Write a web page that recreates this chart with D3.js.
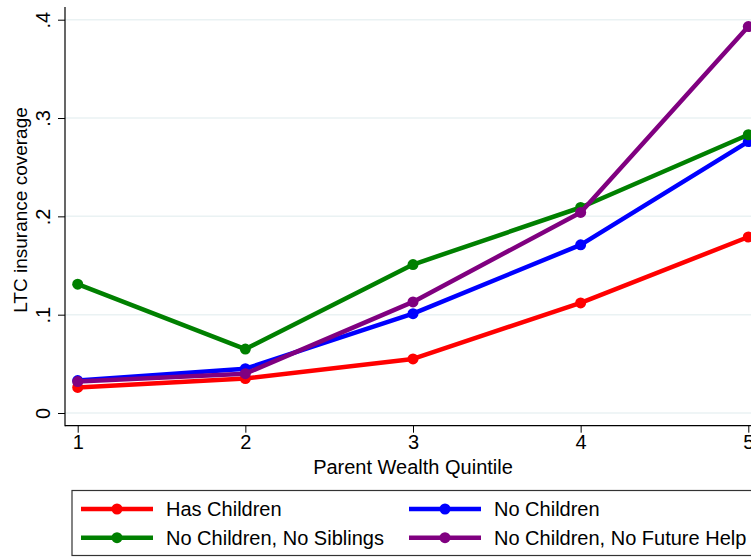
<!DOCTYPE html>
<html><head><meta charset="utf-8">
<script src="https://cdn.jsdelivr.net/npm/d3@7"></script>
<style>body{margin:0;background:#fff}svg{display:block}text{font-family:"Liberation Sans",Arial,sans-serif;fill:#000}</style>
</head><body><div id="chart"></div>
<script>
const quintiles = [1, 2, 3, 4, 5];
const hasChildren = [0.026, 0.035, 0.055, 0.112, 0.179];
const noChildren = [0.033, 0.045, 0.101, 0.171, 0.276];
const noChildrenNoSiblings = [0.131, 0.065, 0.151, 0.209, 0.283];
const noChildrenNoFutureHelp = [0.032, 0.040, 0.113, 0.204, 0.393];
const yTicks = [0, 0.1, 0.2, 0.3, 0.4];
const yTickLabels = ["0", ".1", ".2", ".3", ".4"];
const seriesNames = ["Has Children", "No Children", "No Children, No Siblings", "No Children, No Future Help"];
const seriesColors = ["#ff0000", "#0000ff", "#008000", "#800080"];
const seriesValues = [hasChildren, noChildren, noChildrenNoSiblings, noChildrenNoFutureHelp];

const W = 751, H = 557;
const FS = 20;
const svg = d3.select("#chart").append("svg").attr("width", W).attr("height", H);
const x = d3.scaleLinear().domain([1, 5]).range([77.7, 748.3]);
const y = d3.scaleLinear().domain([0, 0.4]).range([413, 19.7]);
const axisX = 65, axisY = 425.7, plotTop = 7;

// gridlines
svg.append("g").selectAll("line").data(yTicks).join("line")
  .attr("x1", axisX).attr("x2", W).attr("y1", d => y(d)).attr("y2", d => y(d))
  .attr("stroke", "#eaf2f3").attr("stroke-width", 1.5);

// y axis
const ya = svg.append("g").attr("transform", `translate(${axisX},0)`)
  .call(d3.axisLeft(y).tickValues(yTicks).tickFormat((d, i) => yTickLabels[i]).tickSize(7).tickPadding(0));
ya.select(".domain").remove();
ya.selectAll(".tick line").attr("stroke", "#000");
ya.selectAll(".tick text").attr("font-size", FS).attr("text-anchor", "middle")
  .attr("transform", "translate(-22,0) rotate(-90)").attr("x", 0).attr("dy", "0.35em");
svg.append("line").attr("x1", axisX).attr("x2", axisX).attr("y1", plotTop).attr("y2", axisY + 0.5)
  .attr("stroke", "#000").attr("stroke-width", 1.2);

// x axis
const xa = svg.append("g").attr("transform", `translate(0,${axisY})`)
  .call(d3.axisBottom(x).tickValues(quintiles).tickFormat(d3.format("d")).tickSize(7).tickPadding(2));
xa.select(".domain").remove();
xa.selectAll(".tick line").attr("stroke", "#000");
xa.selectAll(".tick text").attr("font-size", FS);
svg.append("line").attr("x1", axisX).attr("x2", W).attr("y1", axisY).attr("y2", axisY)
  .attr("stroke", "#000").attr("stroke-width", 1.2);

// titles
svg.append("text").attr("x", 413).attr("y", 474).attr("text-anchor", "middle").attr("font-size", FS)
  .text("Parent Wealth Quintile");
svg.append("text").attr("transform", "translate(27,210) rotate(-90)").attr("text-anchor", "middle")
  .attr("font-size", 19).text("LTC insurance coverage");

// lines
const line = d3.line().x((d, i) => x(quintiles[i])).y(d => y(d));
[0, 1, 2, 3].forEach(k => {
  const g = svg.append("g");
  g.append("path").datum(seriesValues[k]).attr("d", line).attr("fill", "none")
    .attr("stroke", seriesColors[k]).attr("stroke-width", 4.5).attr("stroke-linejoin", "round");
  g.selectAll("circle").data(seriesValues[k]).join("circle")
    .attr("cx", (d, i) => x(quintiles[i])).attr("cy", d => y(d)).attr("r", 5.5)
    .attr("fill", seriesColors[k]);
});

// legend
const lg = svg.append("g");
lg.append("rect").attr("x", 72).attr("y", 490.5).attr("width", 720).attr("height", 65)
  .attr("fill", "#fff").attr("stroke", "#333").attr("stroke-width", 1.2);
const legPos = [[81, 509], [409, 509], [81, 537.7], [409, 537.7]];
seriesNames.forEach((name, k) => {
  const [lx, ly] = legPos[k];
  lg.append("line").attr("x1", lx).attr("x2", lx + 72).attr("y1", ly).attr("y2", ly)
    .attr("stroke", seriesColors[k]).attr("stroke-width", 4.5);
  lg.append("circle").attr("cx", lx + 36).attr("cy", ly).attr("r", 5.5).attr("fill", seriesColors[k]);
  lg.append("text").attr("x", lx + 85).attr("y", ly).attr("dy", "0.35em").attr("font-size", FS).text(name);
});
</script></body></html>
